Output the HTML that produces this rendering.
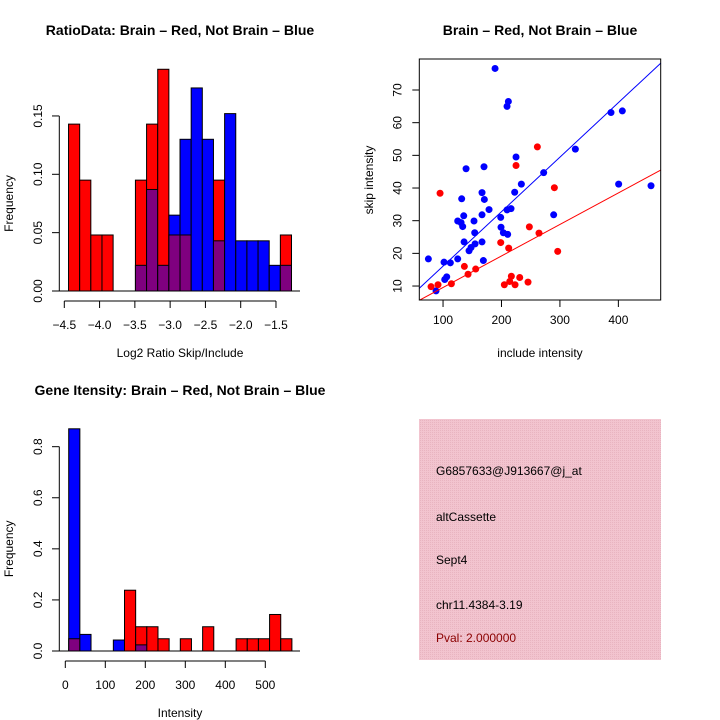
<!DOCTYPE html>
<html><head><meta charset="utf-8"><style>
html,body{margin:0;padding:0;background:#fff;}
svg{display:block;font-family:"Liberation Sans",sans-serif;}
</style></head><body>
<svg id="c" width="720" height="720" viewBox="0 0 720 720"></svg>
<script>
// ---- Panel 1: ratio histogram (20 bins) ----
const ratioBinStart = -4.44;
const ratioBinWidth = 0.158;
const ratioRed  = [0.143,0.095,0.048,0.048,0,0,0.095,0.143,0.19,0.048,0.048,0,0,0.095,0,0,0,0,0,0.048];
const ratioBlue = [0,0,0,0,0,0,0.022,0.087,0.022,0.065,0.13,0.174,0.13,0.043,0.152,0.043,0.043,0.043,0.022,0.022];
const ratioXTicks = [-4.5,-4.0,-3.5,-3.0,-2.5,-2.0,-1.5];
const ratioXLabels = ["\u22124.5","\u22124.0","\u22123.5","\u22123.0","\u22122.5","\u22122.0","\u22121.5"];
const ratioYTicks = [0,0.05,0.10,0.15];
const ratioYLabels = ["0.00","0.05","0.10","0.15"];
// ---- Panel 2: scatter ----
const blueX = [189,211.8,209.5,387.4,406.8,326.4,224.9,139.4,170.1,272.2,234,400.5,455.9,166.7,222.6,131.9,170.7,178.7,209.5,216.3,135.4,166.7,198.7,289.3,125.1,130.8,153,133.6,199.2,203.2,210.6,154.2,136,154.8,166.7,147.9,144.5,74.9,125.1,169,101.7,112.5,106.3,102.9,88];
const blueY = [76.6,66.5,65,63.1,63.6,51.9,49.5,45.9,46.5,44.7,41.2,41.2,40.7,38.6,38.7,36.7,36.5,33.4,33.3,33.7,31.5,31.8,31.0,31.8,29.9,29.4,29.9,28.2,28.0,26.3,25.8,26.3,23.5,22.9,23.5,21.8,20.8,18.3,18.3,17.8,17.3,17.1,12.8,12.0,8.5];
const redX = [261.4,224.9,94.9,290.5,247.7,264.2,198.7,212.3,296.2,136.5,155.9,142.8,216.9,231.2,214.1,245.4,114.3,79.5,91.4,204.9,223.2];
const redY = [52.6,46.9,38.4,40.1,28.1,26.2,23.3,21.6,20.6,16.0,15.2,13.6,13.0,12.6,11.4,11.2,10.7,9.8,10.4,10.4,10.4];
const blueFit = [-0.6,0.1668];
const redFit = [-0.1,0.0965];
const scatXTicks = [100,200,300,400];
const scatYTicks = [10,20,30,40,50,60,70];
// ---- Panel 3: intensity histogram ----
const intBinStart = 8.5;
const intBinWidth = 27.9;
const intRed  = [0.048,0,0,0,0,0.238,0.095,0.095,0.048,0,0.048,0,0.095,0,0,0.048,0.048,0.048,0.143,0.048];
const intBlue = [0.87,0.065,0,0,0.043,0,0.024,0,0,0,0,0,0,0,0,0,0,0,0,0];
const intXTicks = [0,100,200,300,400,500];
const intYTicks = [0,0.2,0.4,0.6,0.8];
const intYLabels = ["0.0","0.2","0.4","0.6","0.8"];

const svg = document.getElementById('c');
const NS = 'http://www.w3.org/2000/svg';
function mk(tag, attrs, parent){
  const e = document.createElementNS(NS, tag);
  for (const k in attrs) e.setAttribute(k, attrs[k]);
  (parent||svg).appendChild(e);
  return e;
}
function txt(s, x, y, attrs, parent){
  const t = mk('text', Object.assign({x:x,y:y,'font-size':12,fill:'#000','text-anchor':'middle'}, attrs||{}), parent);
  t.textContent = s;
  return t;
}

function histPanel(name, title, titleY, xs, ys, start, width, red, blue, xTicks, xLabels, yTicks, yLabels, xlab){
  const g = mk('g', {});
  
  
  const t = txt(title, 180, titleY, {'font-size':14,'font-weight':'bold'}, g);
  
  
  for (let i=0;i<red.length;i++){
    const r = red[i], b = blue[i];
    const x0 = xs(start + i*width), x1 = xs(start + (i+1)*width);
    const mx = Math.max(r,b), mn = Math.min(r,b);
    if (mx > 0){
      const rc = mk('rect', {x:x0, y:ys(mx), width:x1-x0, height:ys(0)-ys(mx), fill: r>=b?'#ff0000':'#0000ff', stroke:'#000','stroke-width':1}, g);
      
      
    }
    if (mn > 0){
      const pc = mk('rect', {x:x0, y:ys(mn), width:x1-x0, height:ys(0)-ys(mn), fill:'#7f007f', stroke:'#000','stroke-width':1}, g);
      
      
    }
  }
  // baseline
  mk('line', {x1:52, x2:300, y1:ys(0), y2:ys(0), stroke:'#000','stroke-width':1}, g);
  // x axis
  const axY = ys(0) + 10;
  const xa = mk('g', {}, g);
  
  
  mk('line', {x1:xs(xTicks[0]), x2:xs(xTicks[xTicks.length-1]), y1:axY, y2:axY, stroke:'#000'}, xa);
  xTicks.forEach((v,i)=>{
    mk('line', {x1:xs(v), x2:xs(v), y1:axY, y2:axY+7, stroke:'#000'}, xa);
    txt(xLabels[i], xs(v), axY+28, {}, xa);
  });
  // y axis
  const ya = mk('g', {}, g);
  
  
  mk('line', {x1:59.3, x2:59.3, y1:ys(yTicks[0]), y2:ys(yTicks[yTicks.length-1]), stroke:'#000'}, ya);
  yTicks.forEach((v,i)=>{
    mk('line', {x1:52, x2:59.3, y1:ys(v), y2:ys(v), stroke:'#000'}, ya);
    txt(yLabels[i], 42, ys(v), {transform:'rotate(-90 42 '+ys(v)+')'}, ya);
  });
  const xl = txt(xlab, 180, ys(0)+66, {}, g);
  
  
  const ymid = (ys(0)+ys(yTicks[yTicks.length-1]))/2;
  const yl = txt('Frequency', 13, ymid, {transform:'rotate(-90 13 '+ymid+')'}, g);
  
  
}

// Panel 1
const xs1 = v => 64.3 + (v + 4.5) * 70.56;
const ys1 = v => 291 - v * 1167;
histPanel('ratio-histogram', 'RatioData: Brain \u2013 Red, Not Brain \u2013 Blue', 35, xs1, ys1, ratioBinStart, ratioBinWidth, ratioRed, ratioBlue, ratioXTicks, ratioXLabels, ratioYTicks, ratioYLabels, 'Log2 Ratio Skip/Include');

// Panel 3
const xs3 = v => 65.3 + v * 0.4;
const ys3 = v => 651 - v * 255.4;
histPanel('intensity-histogram', 'Gene Itensity: Brain \u2013 Red, Not Brain \u2013 Blue', 395, xs3, ys3, intBinStart, intBinWidth, intRed, intBlue, intXTicks, intXTicks.map(String), intYTicks, intYLabels, 'Intensity');

// Panel 2 scatter
(function(){
  const xs = v => 384.6 + v * 0.5844;
  const ys = v => 318.7 - v * 3.267;
  const L=419.3, R=660.7, T=59, B=300;
  const g = mk('g', {});
  
  
  const t = txt('Brain \u2013 Red, Not Brain \u2013 Blue', 540, 35, {'font-size':14,'font-weight':'bold'}, g);
  
  
  const defs = mk('defs', {}, g);
  const cp = mk('clipPath', {id:'clipS'}, defs);
  mk('rect', {x:L, y:T, width:R-L, height:B-T}, cp);
  const plot = mk('g', {'clip-path':'url(#clipS)'}, g);
  blueX.forEach((x,i)=>{
    const c = mk('circle', {cx:xs(x), cy:ys(blueY[i]), r:3.5, fill:'#0000ff'}, plot);
    
    
  });
  redX.forEach((x,i)=>{
    const c = mk('circle', {cx:xs(x), cy:ys(redY[i]), r:3.5, fill:'#ff0000'}, plot);
    
    
  });
  const bl = mk('line', {x1:xs(0), y1:ys(blueFit[0]), x2:xs(500), y2:ys(blueFit[0]+blueFit[1]*500), stroke:'#0000ff','stroke-width':1}, plot);
  
  
  const rl = mk('line', {x1:xs(0), y1:ys(redFit[0]), x2:xs(500), y2:ys(redFit[0]+redFit[1]*500), stroke:'#ff0000','stroke-width':1}, plot);
  
  
  const box = mk('rect', {x:L, y:T, width:R-L, height:B-T, fill:'none', stroke:'#000'}, g);
  
  
  scatXTicks.forEach(v=>{
    mk('line', {x1:xs(v), x2:xs(v), y1:B, y2:B+7, stroke:'#000'}, g);
    txt(String(v), xs(v), B+24, {}, g);
  });
  scatYTicks.forEach(v=>{
    mk('line', {x1:L-7, x2:L, y1:ys(v), y2:ys(v), stroke:'#000'}, g);
    txt(String(v), L-18, ys(v), {transform:'rotate(-90 '+(L-18)+' '+ys(v)+')'}, g);
  });
  const xl = txt('include intensity', 540, 357, {}, g);
  
  
  const yl = txt('skip intensity', 373, 180, {transform:'rotate(-90 373 180)'}, g);
  
  
})();
</script>
<svg style="position:absolute;left:0;top:0" width="720" height="720">
  <defs><pattern id="pk" width="2" height="2" patternUnits="userSpaceOnUse"><rect width="2" height="2" fill="#f2c4cf"/><rect width="1" height="1" fill="#e8b4c0"/></pattern></defs>
  <rect x="419" y="419" width="242" height="241" fill="url(#pk)"/>
  <g font-family="Liberation Sans, sans-serif" font-size="12">
    <text x="436" y="475">G6857633@J913667@j_at</text>
    <text x="436" y="521">altCassette</text>
    <text x="436" y="564">Sept4</text>
    <text x="436" y="609">chr11.4384-3.19</text>
    <text x="436" y="642" fill="#8b0000">Pval: 2.000000</text>
  </g>
</svg>
</body></html>
